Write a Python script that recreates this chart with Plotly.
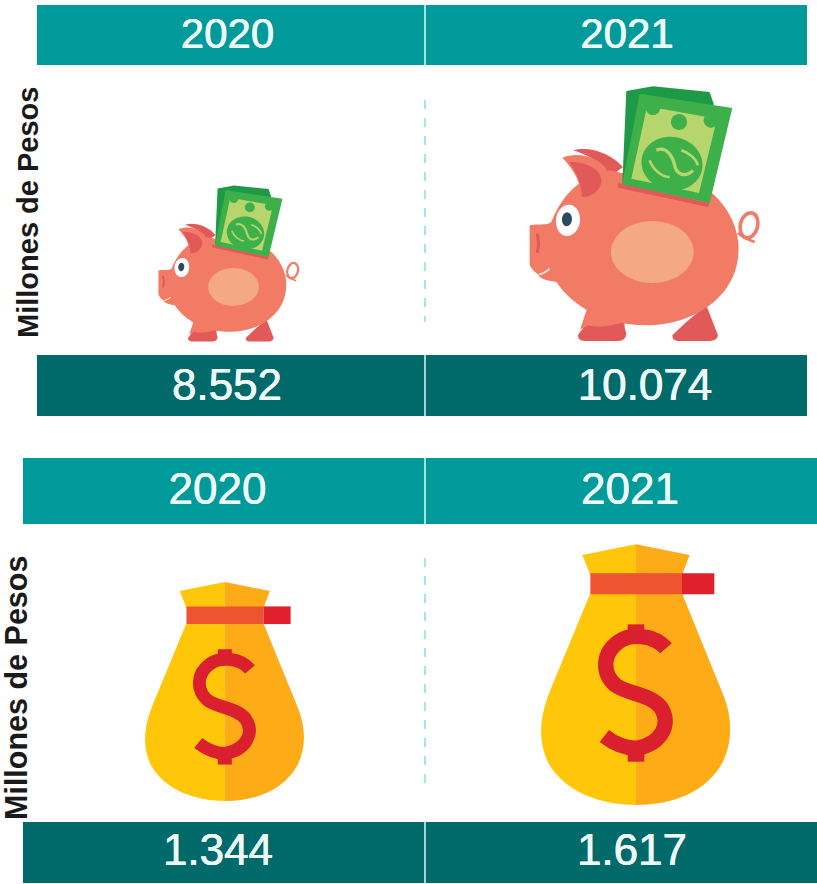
import re, math
import plotly.graph_objects as go

# ---------- data ----------
years = ["2020", "2021"]
savings_values = [8552, 10074]
bag_values = [1344, 1617]
axis_title = "Millones de Pesos"

# ---------- styles ----------
W, H = 817, 884
TEAL = "#009A9A"
DARK = "#006A6A"
TXT = "#EEFAFA"
FONT = "Liberation Sans, Arial, sans-serif"

shapes = []


def fmt(v):
    return f"{v:,}".replace(",", ".")


def tf(path, t):
    nums = iter(re.findall(r"[A-Za-z]|-?\d+\.?\d*", path))
    out = []
    for tok in nums:
        if tok.isalpha():
            out.append(tok)
        else:
            x, y = t(float(tok), float(next(nums)))
            out.append(f"{x:.2f},{y:.2f}")
    return " ".join(out)


def add(path, t, fill=None, line=None, lw=0):
    shapes.append(dict(
        type="path", path=tf(path, t), layer="below",
        fillcolor=fill if fill else "rgba(0,0,0,0)",
        line=dict(color=line if line else "rgba(0,0,0,0)", width=lw),
    ))


def ell(cx, cy, rx, ry, rot=0.0):
    k = 0.5523
    pts = [(rx, 0), (rx, k*ry), (k*rx, ry), (0, ry), (-k*rx, ry), (-rx, k*ry), (-rx, 0),
           (-rx, -k*ry), (-k*rx, -ry), (0, -ry), (k*rx, -ry), (rx, -k*ry), (rx, 0)]
    c, s = math.cos(rot), math.sin(rot)
    p = [(cx + a*c - b*s, cy + a*s + b*c) for a, b in pts]
    d = f"M{p[0][0]:.1f},{p[0][1]:.1f} "
    for i in range(1, 13, 3):
        d += "C" + " ".join(f"{q[0]:.1f},{q[1]:.1f}" for q in p[i:i+3]) + " "
    return d + "Z"


def band(x0, x1, y0, y1, color):
    shapes.append(dict(type="rect", x0=x0, x1=x1, y0=y0, y1=y1, layer="below",
                       fillcolor=color, line=dict(width=0)))


def vline(x, y0, y1, color, width, dash="solid"):
    shapes.append(dict(type="line", x0=x, x1=x, y0=y0, y1=y1, layer="below",
                       line=dict(color=color, width=width, dash=dash)))


def pig(ox, oy, s):
    """ox, oy: page position of the drawing's (58,815) corner; s: scale."""
    t = lambda x, y: (ox + (x-58)*s, oy + (y-815)*s)
    BODY, DK, = "#F27B66", "#E2595A"
    # legs
    add("M232,715 L212,775 L345,775 L345,745 Z", t, BODY)
    add("M205,795 Q215,775 235,765 C270,775 310,765 340,755 L350,790 Q348,812 325,812 L225,812 Q205,812 205,795 Z", t, DK)
    add("M590,705 L625,795 Q622,812 600,812 L505,812 Q488,812 488,795 L530,755 Z", t, DK)
    # tail
    add(ell(718, 465, 26, 38, 0.25), t, None, BODY, max(1.8, 11*s))
    add("M685,488 C705,505 720,510 735,515", t, None, BODY, max(1.4, 8*s))
    # ear back
    add("M190,240 C240,225 305,250 340,290 L300,320 C280,280 240,255 190,240 Z", t, DK)
    # body
    add("M60,465 C85,458 110,468 125,455 C150,390 190,345 240,320 L300,300 L610,370 "
        "C665,420 692,490 686,550 C680,680 550,765 410,765 C290,765 190,710 140,635 "
        "C120,632 90,628 85,612 C70,600 60,590 60,580 Z", t, BODY)
    # ear front
    add("M158,262 C200,245 265,255 292,300 C295,340 280,370 240,385 L215,385 C215,340 195,300 158,262 Z", t, BODY)
    add("M178,275 C225,275 270,290 276,330 C272,362 245,382 217,380 C215,340 200,305 178,275 Z", t, DK)
    # mouth
    add("M88,612 C100,610 110,605 120,595", t, None, "#FBE3DC", max(1.0, 5*s))
    # snout line
    add("M82,490 C88,510 88,530 82,548", t, None, DK, max(1.0, 9*s))
    # belly
    add(ell(428, 545, 124, 93), t, "#F5A884")
    # eye
    add(ell(175, 450, 36, 47, 0.12), t, "#FFFFFF")
    add(ell(172, 447, 15, 21, 0.1), t, "#2C4A5C")
    # slot shadow
    add("M325,338 L600,398 L610,372 L595,410 L325,352 Z", t, DK)
    # bills
    add("M350,62 L430,48 L600,65 L612,100 L600,395 L338,340 Z", t, "#1E9A46")
    add("M390,70 L668,113 L600,398 L338,342 Z", t, "#3DB049")
    add("M412,108 L622,145 L568,368 L365,325 Z", t, "#B6D56C")
    add(ell(430, 112, 22, 22), t, "#3DB049")
    add(ell(604, 150, 22, 22), t, "#3DB049")
    add(ell(508, 155, 24, 24), t, "#3DB049")
    add(ell(487, 280, 92, 80, 0.2), t, "#3DB049")
    add("M440,240 C470,225 490,260 495,285 C500,310 525,325 550,300", t,
        None, "#B6D56C", max(1.2, 10*s))
    add("M420,270 C430,300 460,320 480,320 M515,240 C535,245 560,265 565,285", t,
        None, "#B6D56C", max(1.0, 8*s))


def bag(ox, oy, s):
    """ox, oy: page position of the drawing's (62,825) corner; s: scale."""
    t = lambda x, y: (ox + (x-62)*s, oy + (y-825)*s)
    L, R, RED, = "#FFC60A", "#FDAB17", "#DA1F2E"
    add("M186,75 L347,43 L347,135 L210,135 Z", t, L)
    add("M347,43 L508,75 L485,135 L347,135 Z", t, R)
    add("M210,190 L90,480 C60,555 50,625 82,695 C130,785 240,825 347,825 L347,190 Z", t, L)
    add("M347,190 L347,825 C460,825 560,785 608,695 C640,625 635,555 605,485 L485,190 Z", t, R)
    add("M210,130 L485,130 L485,193 L210,193 Z", t, "#EE5430")
    add("M485,130 L582,130 L582,193 L485,193 Z", t, "#E0202C")
    add("M322,283 L372,283 L372,320 L322,320 Z", t, RED)
    add("M322,655 L372,655 L372,695 L322,695 Z", t, RED)
    add("M437,355 C400,312 330,310 295,335 C245,370 245,430 285,465 C320,492 385,490 420,530 "
        "C455,580 425,640 350,655 C315,655 280,640 252,618", t, None, RED, 46*s)


# ---------- header / value bands ----------
rows = [
    dict(x0=37, x1=807, head=(5, 65), val=(355, 416), dash=(100, 322)),
    dict(x0=23, x1=817, head=(458, 524), val=(822, 883), dash=(558, 790)),
]
MID = 425
for r in rows:
    band(r["x0"], r["x1"], *r["head"], TEAL)
    band(r["x0"], r["x1"], *r["val"], DARK)
    vline(MID, r["head"][0], r["head"][1] + 1, "#E8F6F6", 1.5)
    vline(MID, r["val"][0], r["val"][1] + 1, "#E8F6F6", 1.5)
    vline(MID, *r["dash"], "#7FE0EA", 1.5, "dash")

# ---------- icons ----------
pig(158, 342, 0.204)
pig(529, 342, 0.3333)
bag(145, 801, 0.28)
bag(541, 805, 0.3333)

# ---------- text ----------
fig = go.Figure()
SHADOW = f"0.3px 0 0 {TXT}, -0.3px 0 0 {TXT}"


def text_row(xs, y, labels, size):
    fig.add_trace(go.Scatter(
        x=xs, y=[y]*len(xs), text=labels, mode="text", textposition="middle center",
        textfont=dict(family=FONT, size=size, color=TXT, shadow=SHADOW),
        hoverinfo="skip", showlegend=False,
    ))


text_row([227.5, 627], 37, years, 42)
text_row([227, 645], 389, [fmt(v) for v in savings_values], 44)
text_row([217.5, 630], 493, years, 44)
text_row([218, 632], 854, [fmt(v) for v in bag_values], 44)

ann = [
    dict(x=28, y=213, text=f"<b>{axis_title}</b>", size=29),
    dict(x=16, y=688, text=f"<b>{axis_title}</b>", size=30.5),
]
for a in ann:
    size = a.pop("size")
    a.update(xref="x", yref="y", showarrow=False, textangle=-90,
             font=dict(family=FONT, size=size, color="#1A1A1A"))

fig.update_layout(
    width=W, height=H, margin=dict(l=0, r=0, t=0, b=0), autosize=False,
    paper_bgcolor="#FFFFFF", plot_bgcolor="#FFFFFF",
    xaxis=dict(range=[0, W], visible=False, fixedrange=True),
    yaxis=dict(range=[H, 0], visible=False, fixedrange=True),
    shapes=shapes, annotations=ann, showlegend=False,
)
fig.write_html("out.html", config=dict(displayModeBar=False),
               post_script="document.body.style.margin='0';document.body.style.overflow='hidden';")
